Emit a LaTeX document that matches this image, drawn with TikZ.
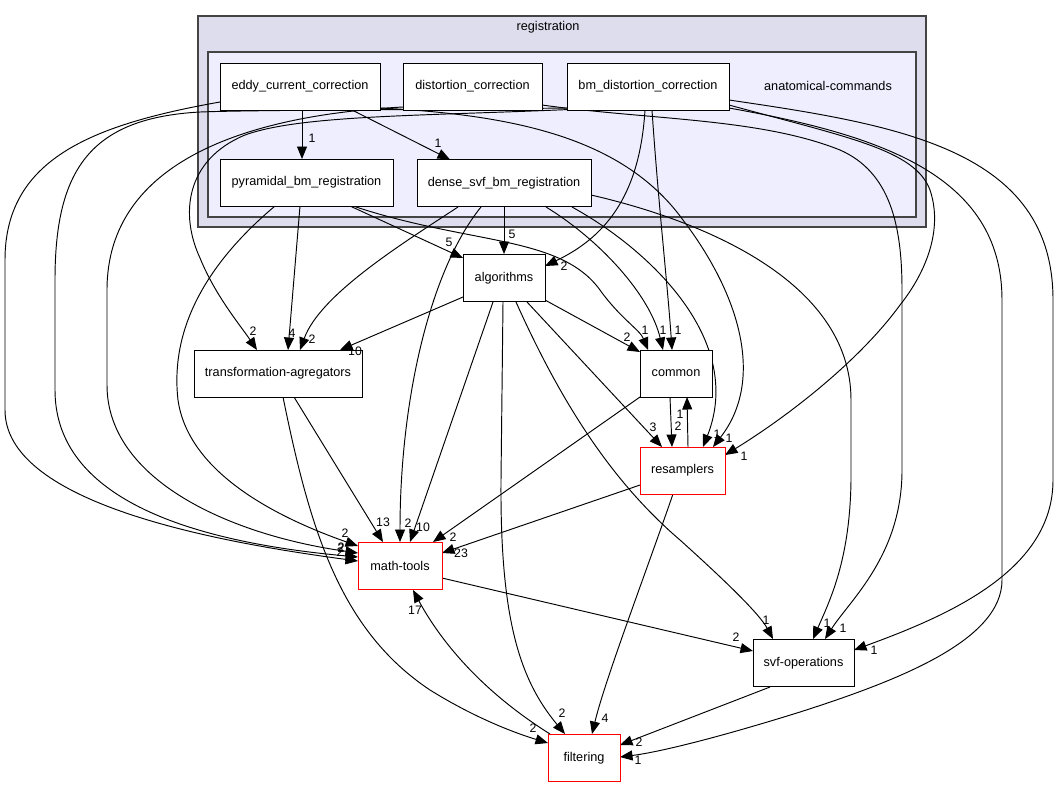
\documentclass[tikz,border=0pt]{standalone}
\usepackage{fontspec}
\setmainfont{Liberation Sans}
\usetikzlibrary{arrows.meta}
\pgfdeclarelayer{bg}
\pgfdeclarelayer{edges}
\pgfsetlayers{bg,edges,main}
\definecolor{regfill}{HTML}{DDDDEE}
\definecolor{anafill}{HTML}{EEEEFF}
\definecolor{clborder}{HTML}{444444}
\begin{document}
\begin{tikzpicture}[x=1pt,y=-1pt,
  every node/.style={font=\fontsize{12.7}{14}\selectfont},
  box/.style={draw=black,line width=1pt,fill=white,minimum height=47pt,inner sep=0pt},
  redbox/.style={box,draw=red},
  lbl/.style={font=\fontsize{12.3}{13}\selectfont,inner sep=0pt},
  dep/.style={draw=black,line width=0.95pt,-{Triangle[length=12.5pt,width=10pt]}},
  cluster/.style={draw=clborder,line width=1.4pt}
]
\useasboundingbox (0,0) rectangle (1059,788);
\begin{pgfonlayer}{bg}
\fill[white] (0,0) rectangle (1059,788);
\draw[cluster,fill=regfill] (198,16) rectangle (926,227);
\draw[cluster,fill=anafill] (208,52) rectangle (916,217);
\end{pgfonlayer}
\node (reglabel) at (548,27) {registration};
\node (analabel) at (828,86) {anatomical-commands};

% nodes
\node[box,minimum width=160pt] (E) at (300,86.5) {eddy\_current\_correction};
\node[box,minimum width=139pt] (D) at (472.5,86.5) {distortion\_correction};
\node[box,minimum width=162pt] (B) at (648,86.5) {bm\_distortion\_correction};
\node[box,minimum width=173pt] (P) at (306.5,182.5) {pyramidal\_bm\_registration};
\node[box,minimum width=174pt] (S) at (504,183) {dense\_svf\_bm\_registration};
\node[box,minimum width=82pt] (A) at (504,278) {algorithms};
\node[box,minimum width=168pt] (T) at (278,373.5) {transformation-agregators};
\node[box,minimum width=72pt] (C) at (676,373.5) {common};
\node[redbox,minimum width=85pt] (R) at (682.5,470.5) {resamplers};
\node[redbox,minimum width=84pt] (M) at (400,566) {math-tools};
\node[box,minimum width=101pt] (V) at (803.5,663) {svf-operations};
\node[redbox,minimum width=72pt] (F) at (584,758) {filtering};

\begin{pgfonlayer}{edges}
% eddy_current_correction
\draw[dep] ([shift={(2,23.5)}]E.center) -- ([shift={(-4.5,-23.5)}]P.center);
\draw[dep] ([shift={(52,23.5)}]E.center) -- ([shift={(-54,-23.5)}]S.center);
\draw[dep] ([shift={(-80,15.5)}]E.center) .. controls (90,125) and (5,160) .. (5,260) -- (5,410) .. controls (5,500) and (200,540) .. ([shift={(-42,-5)}]M.center);
\draw[dep] ([shift={(80,21.5)}]E.center) .. controls (520,115) and (625,140) .. (683,220) .. controls (740,295) and (765,380) .. ([shift={(30.5,-23.5)}]R.center);
% distortion_correction
\draw[dep] ([shift={(-69.5,20.5)}]D.center) .. controls (250,115) and (107,160) .. (107,290) -- (107,385) .. controls (107,480) and (230,535) .. ([shift={(-42,-13)}]M.center);
\draw[dep] ([shift={(69.5,18.5)}]D.center) .. controls (650,120) and (760,118) .. (840,150) .. controls (890,172) and (902,225) .. (902,290) -- (902,470) .. controls (902,555) and (850,600) .. ([shift={(21.5,-24)}]V.center);
% bm_distortion_correction
\draw[dep] ([shift={(-81,21.5)}]B.center) .. controls (400,110) and (250,110) .. (200,112) .. controls (90,118) and (55,170) .. (55,280) -- (55,390) .. controls (55,490) and (170,540) .. ([shift={(-42,-9)}]M.center);
\draw[dep] ([shift={(-79,23)}]B.center) .. controls (420,116) and (300,115) .. (245,135) .. controls (185,160) and (180,215) .. (200,258) .. controls (215,295) and (240,325) .. ([shift={(-21,-23.5)}]T.center);
\draw[dep] ([shift={(-3,23.5)}]B.center) .. controls (640,190) and (610,235) .. ([shift={(41,-12)}]A.center);
\draw[dep] ([shift={(4,23.5)}]B.center) .. controls (658,200) and (668,290) .. ([shift={(-4,-23.5)}]C.center);
\draw[dep] ([shift={(81,18.5)}]B.center) .. controls (850,138) and (915,150) .. (930,190) .. controls (945,235) and (920,280) .. (900,305) .. controls (860,360) and (790,415) .. ([shift={(42.5,-15.5)}]R.center);
\draw[dep] ([shift={(81,13.5)}]B.center) .. controls (900,125) and (1053,150) .. (1053,300) -- (1053,480) .. controls (1053,570) and (950,615) .. ([shift={(50.5,-13)}]V.center);
\draw[dep] ([shift={(81,21.5)}]B.center) .. controls (880,135) and (1002,175) .. (1002,300) -- (1002,580) .. controls (1002,640) and (900,680) .. (800,712) .. controls (720,737) and (660,752) .. ([shift={(36,-1)}]F.center);
% pyramidal_bm_registration
\draw[dep] ([shift={(-6.5,23.5)}]P.center) -- ([shift={(10,-23.5)}]T.center);
\draw[dep] ([shift={(43.5,23.5)}]P.center) -- ([shift={(-41,-20)}]A.center);
\draw[dep] ([shift={(46.5,23.5)}]P.center) .. controls (470,245) and (560,235) .. (600,290) .. controls (620,318) and (640,330) .. ([shift={(-28,-23.5)}]C.center);
\draw[dep] ([shift={(-31.5,23.5)}]P.center) .. controls (205,265) and (170,330) .. (178,400) .. controls (188,470) and (270,515) .. ([shift={(-42,-20)}]M.center);
% dense_svf_bm_registration
\draw[dep] ([shift={(0,24)}]S.center) -- ([shift={(0,-24)}]A.center);
\draw[dep] ([shift={(-46,24)}]S.center) .. controls (400,245) and (320,295) .. ([shift={(22,-23.5)}]T.center);
\draw[dep] ([shift={(-23,24)}]S.center) .. controls (430,270) and (400,400) .. ([shift={(0,-24)}]M.center);
\draw[dep] ([shift={(42,24)}]S.center) .. controls (600,240) and (650,295) .. ([shift={(-13,-23.5)}]C.center);
\draw[dep] ([shift={(68,24)}]S.center) .. controls (650,250) and (745,340) .. ([shift={(20.5,-23.5)}]R.center);
\draw[dep] ([shift={(87,12)}]S.center) .. controls (700,220) and (851,280) .. (851,400) -- (851,480) .. controls (850,560) and (830,600) .. ([shift={(9.5,-24)}]V.center);
% algorithms
\draw[dep] ([shift={(-41,19)}]A.center) -- ([shift={(62,-23.5)}]T.center);
\draw[dep] ([shift={(41,22)}]A.center) -- ([shift={(-36,-21.5)}]C.center);
\draw[dep] ([shift={(23,24)}]A.center) -- ([shift={(-20.5,-23.5)}]R.center);
\draw[dep] ([shift={(-11,24)}]A.center) -- ([shift={(10,-24)}]M.center);
\draw[dep] ([shift={(-1,24)}]A.center) -- (501,480) .. controls (500,620) and (520,680) .. ([shift={(-19,-24)}]F.center);
\draw[dep] ([shift={(12,24)}]A.center) .. controls (560,400) and (610,480) .. (680,540) .. controls (730,585) and (760,615) .. ([shift={(-30.5,-24)}]V.center);
% transformation-agregators
\draw[dep] ([shift={(16,23.5)}]T.center) -- ([shift={(-17,-24)}]M.center);
\draw[dep] ([shift={(5,23.5)}]T.center) .. controls (310,530) and (340,630) .. (430,690) .. controls (475,718) and (515,733) .. ([shift={(-36,-15)}]F.center);
% common
\draw[dep] ([shift={(-6,23.5)}]C.center) -- ([shift={(-10.5,-23.5)}]R.center);
\draw[dep] ([shift={(-36,23.5)}]C.center) -- ([shift={(33,-24)}]M.center);
% resamplers
\draw[dep] ([shift={(5.5,-23.5)}]R.center) -- ([shift={(11,23.5)}]C.center);
\draw[dep] ([shift={(-42.5,14.5)}]R.center) -- ([shift={(42,-13)}]M.center);
\draw[dep] ([shift={(-9.5,23.5)}]R.center) .. controls (645,575) and (605,680) .. ([shift={(8,-24)}]F.center);
% math-tools
\draw[dep] ([shift={(42,12)}]M.center) -- ([shift={(-50.5,-12)}]V.center);
% svf-operations
\draw[dep] ([shift={(-33.5,24)}]V.center) -- ([shift={(36,-13)}]F.center);
% filtering
\draw[dep] ([shift={(-34,-24)}]F.center) .. controls (480,690) and (440,640) .. ([shift={(13,24)}]M.center);
\end{pgfonlayer}

% edge labels
\node[lbl] (lEP) at (312,138) {1};
\node[lbl] (lES) at (438,143) {1};
\node[lbl] (lEM) at (340,552) {2};
\node[lbl] (lDM) at (341,548) {2};
\node[lbl] (lBM) at (341,547) {2};
\node[lbl] (lPM) at (345,533) {2};
\node[lbl] (lBT) at (253,331) {2};
\node[lbl] (lPT) at (292,333) {4};
\node[lbl] (lST) at (312,339) {2};
\node[lbl] (lAT) at (355,351) {10};
\node[lbl] (lPA) at (449,242) {5};
\node[lbl] (lSA) at (512,234) {5};
\node[lbl] (lBA) at (564,266) {2};
\node[lbl] (lAC) at (627,337) {2};
\node[lbl] (lPC) at (645,330) {1};
\node[lbl] (lSC) at (663,330) {1};
\node[lbl] (lBC) at (678,330) {1};
\node[lbl] (lAR) at (653,427) {3};
\node[lbl] (lCR) at (678,426) {2};
\node[lbl] (lRC) at (680,414) {1};
\node[lbl] (lSR) at (717,434) {1};
\node[lbl] (lER) at (729,438) {1};
\node[lbl] (lBR) at (744,456) {1};
\node[lbl] (lTM) at (383,522) {13};
\node[lbl] (lSM) at (408,523) {2};
\node[lbl] (lAM) at (423,527) {10};
\node[lbl] (lCM) at (453,537) {2};
\node[lbl] (lRM) at (461,553) {23};
\node[lbl] (lFM) at (415,610) {17};
\node[lbl] (lMV) at (736,637) {2};
\node[lbl] (lAV) at (766,620) {1};
\node[lbl] (lSV) at (827,623) {1};
\node[lbl] (lDV) at (843,628) {1};
\node[lbl] (lBV) at (874,650) {1};
\node[lbl] (lTF) at (533,728) {2};
\node[lbl] (lAF) at (562,713) {2};
\node[lbl] (lRF) at (605,718) {4};
\node[lbl] (lVF) at (639,742) {2};
\node[lbl] (lBF) at (638,760) {1};
\end{tikzpicture}
\end{document}
